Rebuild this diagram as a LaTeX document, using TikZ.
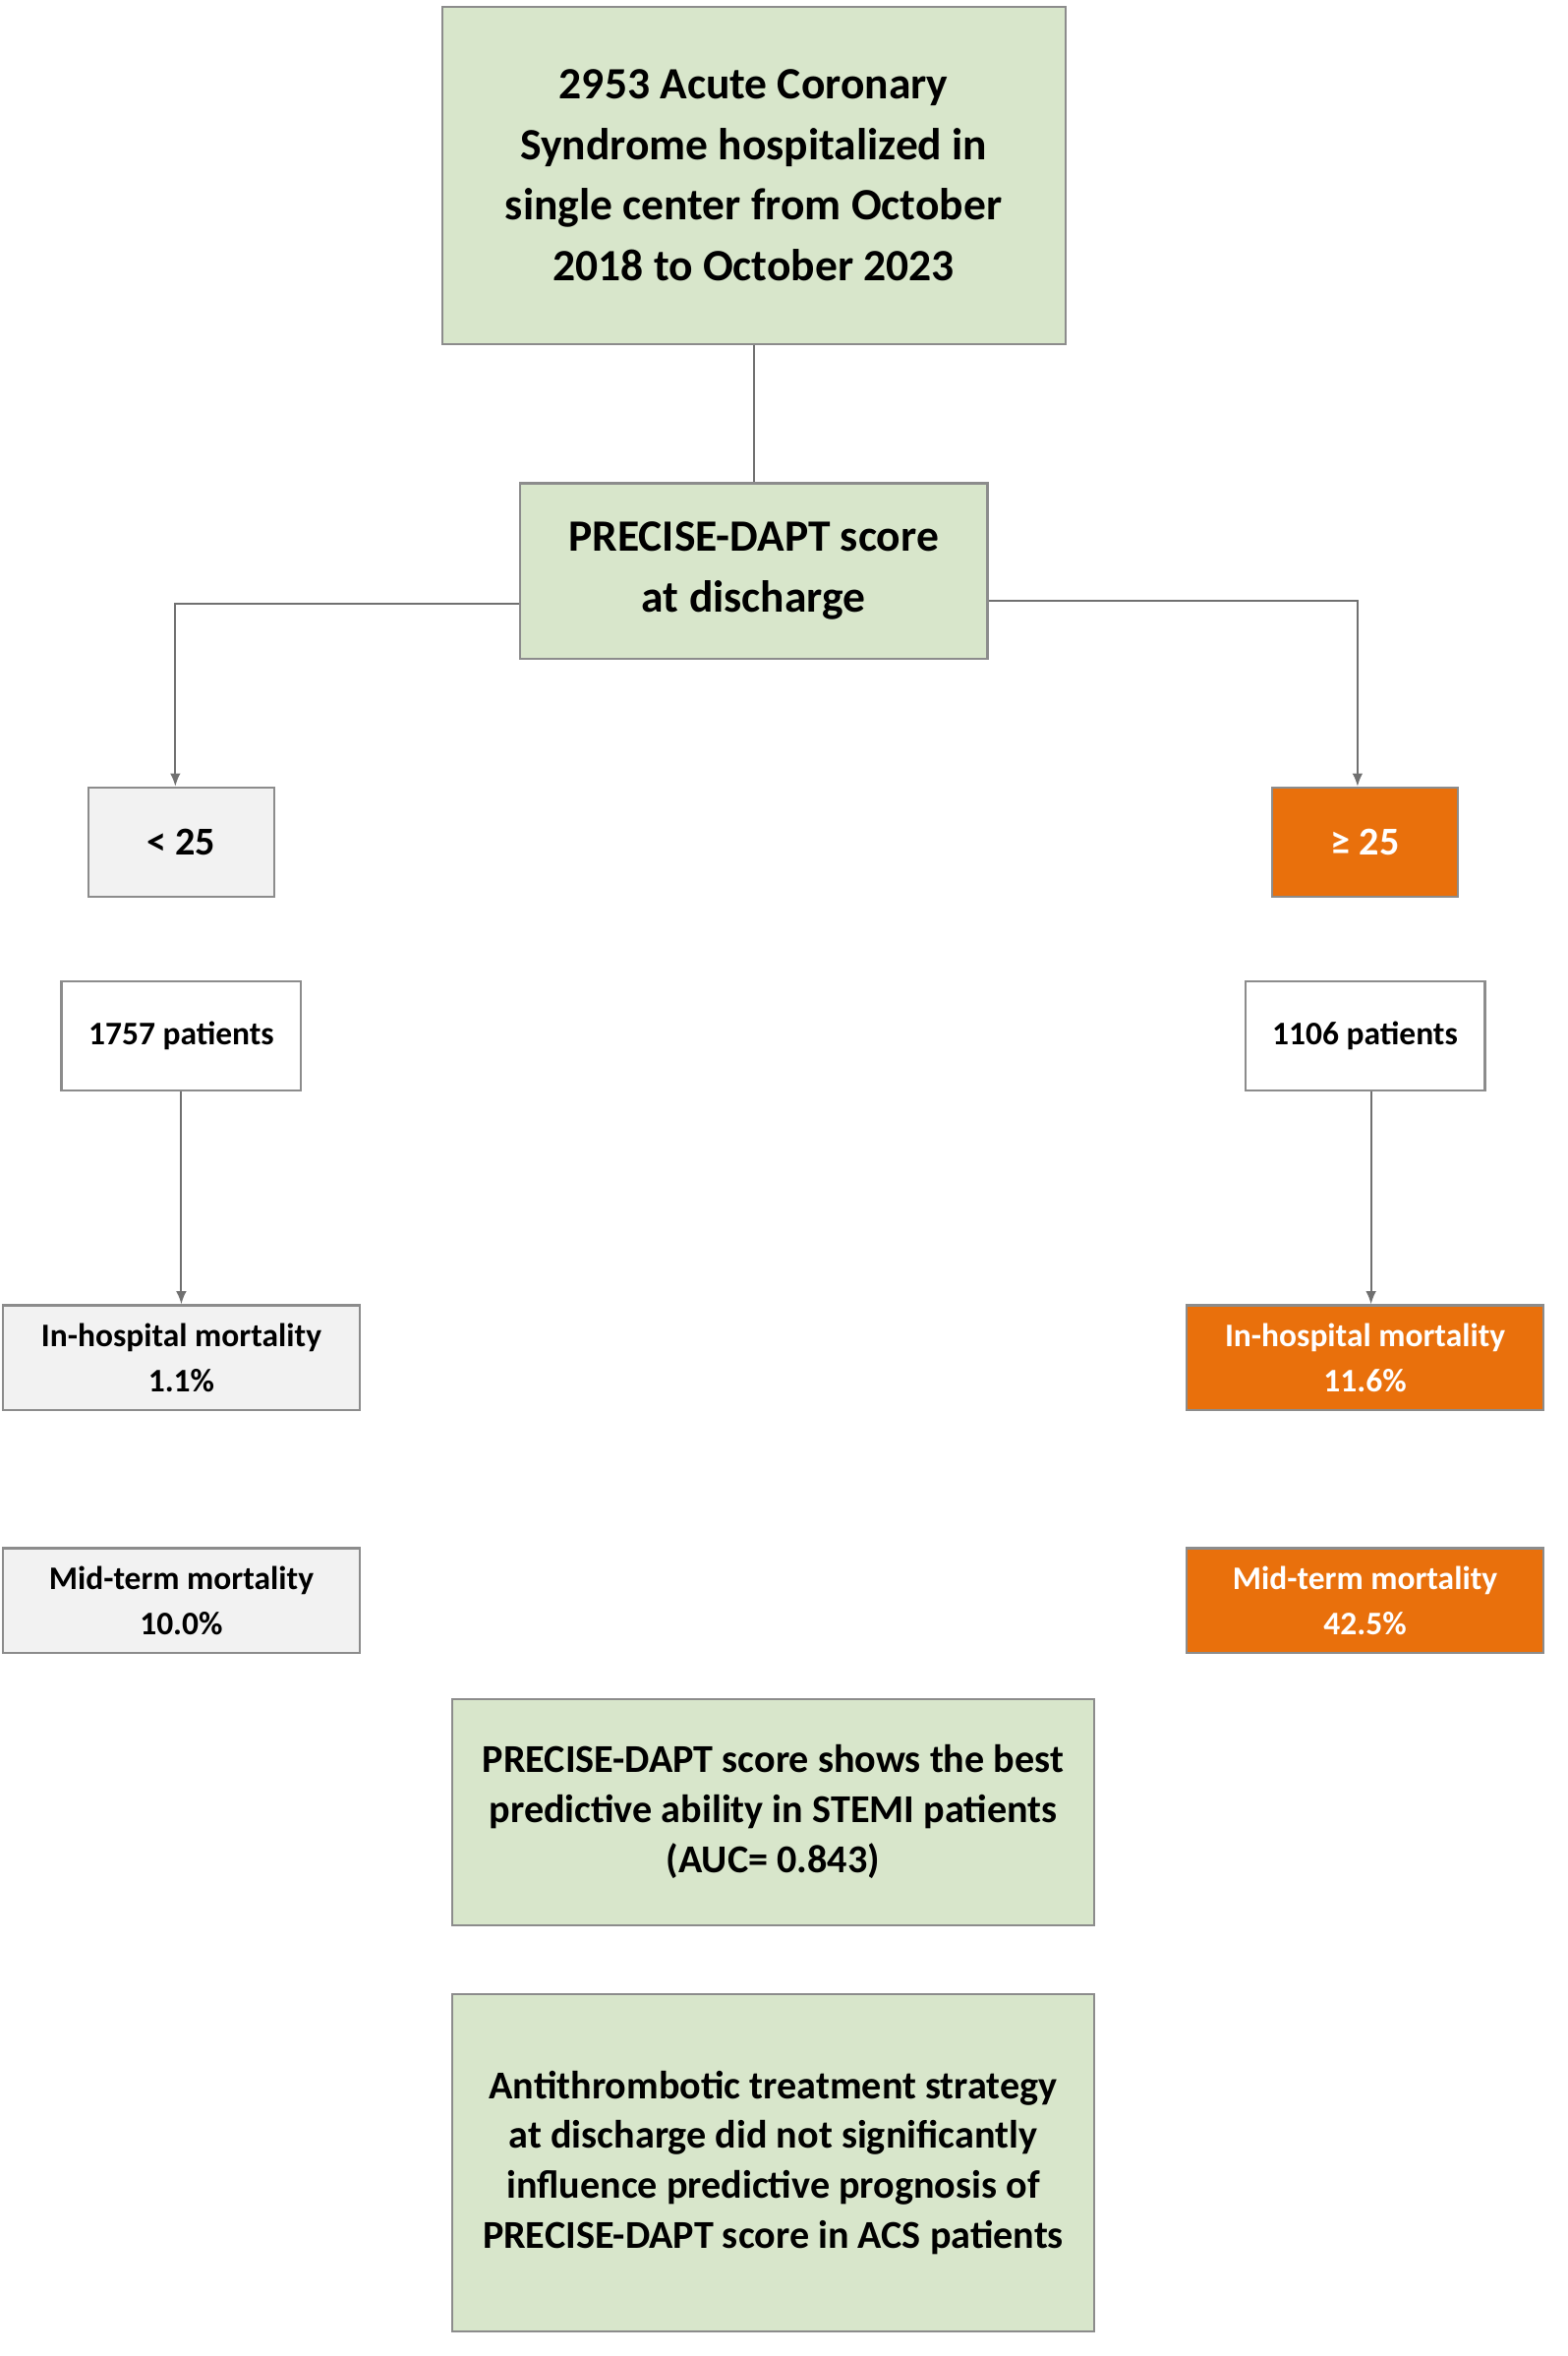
\documentclass[tikz,border=0pt]{standalone}
\usepackage{fontspec}
\setmainfont{Carlito}
\usetikzlibrary{positioning}
\definecolor{boxgreen}{HTML}{D8E6CB}
\definecolor{boxgray}{HTML}{F2F2F2}
\definecolor{boxorange}{HTML}{E9700C}
\definecolor{edgegray}{HTML}{8C8C8C}
\tikzset{
  box/.style={draw=edgegray, line width=0.8pt, align=center, font=\bfseries, inner sep=0pt},
  big/.style={box, fill=boxgreen, font=\fontsize{17}{23}\selectfont\bfseries},
  small/.style={box, font=\fontsize{12.5}{17}\selectfont\bfseries},
  link/.style={draw=edgegray!80!black, line width=0.8pt},
  arr/.style={link, -{Latex[length=5pt,width=4pt]}}
}
\usetikzlibrary{arrows.meta}
\begin{document}
\begin{tikzpicture}[x=0.02cm, y=-0.02cm]
    \useasboundingbox (0,0) rectangle (1046,1572);

    % top and score
    \node[big, minimum width=416*0.02cm, minimum height=225*0.02cm] (total) at (503,117)
        {2953 Acute Coronary\\Syndrome hospitalized in\\single center from October\\2018 to October 2023};
    \node[big, minimum width=312*0.02cm, minimum height=117*0.02cm] (score) at (503,381)
        {PRECISE-DAPT score\\at discharge};

    % groups
    \node[small, fill=boxgray, font=\fontsize{15}{20}\selectfont\bfseries, minimum width=124*0.02cm, minimum height=73*0.02cm] (low) at (121,562) {< 25};
    \node[small, fill=boxorange, text=white, font=\fontsize{15}{20}\selectfont\bfseries, minimum width=124*0.02cm, minimum height=73*0.02cm] (high) at (911,562) {≥ 25};
    \node[small, fill=white, minimum width=160*0.02cm, minimum height=73*0.02cm] (lowpat) at (121,691) {1757 patients};
    \node[small, fill=white, minimum width=160*0.02cm, minimum height=73*0.02cm] (highpat) at (911,691) {1106 patients};

    % mortality
    \node[small, fill=boxgray, minimum width=238*0.02cm, minimum height=70*0.02cm] (lowinh) at (121,906) {In-hospital mortality\\1.1\%};
    \node[small, fill=boxorange, text=white, minimum width=238*0.02cm, minimum height=70*0.02cm] (highinh) at (911,906) {In-hospital mortality\\11.6\%};
    \node[small, fill=boxgray, minimum width=238*0.02cm, minimum height=70*0.02cm] (lowmid) at (121,1068) {Mid-term mortality\\10.0\%};
    \node[small, fill=boxorange, text=white, minimum width=238*0.02cm, minimum height=70*0.02cm] (highmid) at (911,1068) {Mid-term mortality\\42.5\%};

    % conclusions
    \node[big, font=\fontsize{15}{19}\selectfont\bfseries, minimum width=428*0.02cm, minimum height=151*0.02cm] (stemi) at (516,1209)
        {PRECISE-DAPT score shows the best\\predictive ability in STEMI patients\\(AUC= 0.843)};
    \node[big, font=\fontsize{15}{19}\selectfont\bfseries, minimum width=428*0.02cm, minimum height=225*0.02cm] (anti) at (516,1443)
        {Antithrombotic treatment strategy\\at discharge did not significantly\\influence predictive prognosis of\\PRECISE-DAPT score in ACS patients};

    % connectors
    \draw[link] (total) -- (score);
    \draw[arr] (score.west |- 0,403) -| (low.north -| 117,0);
    \draw[arr] (score.east |- 0,401) -| (high.north -| 906,0);
    \draw[arr] (lowpat) -- (lowinh);
    \draw[arr] (highpat.south -| 915,0) -- (highinh.north -| 915,0);
\end{tikzpicture}
\end{document}
